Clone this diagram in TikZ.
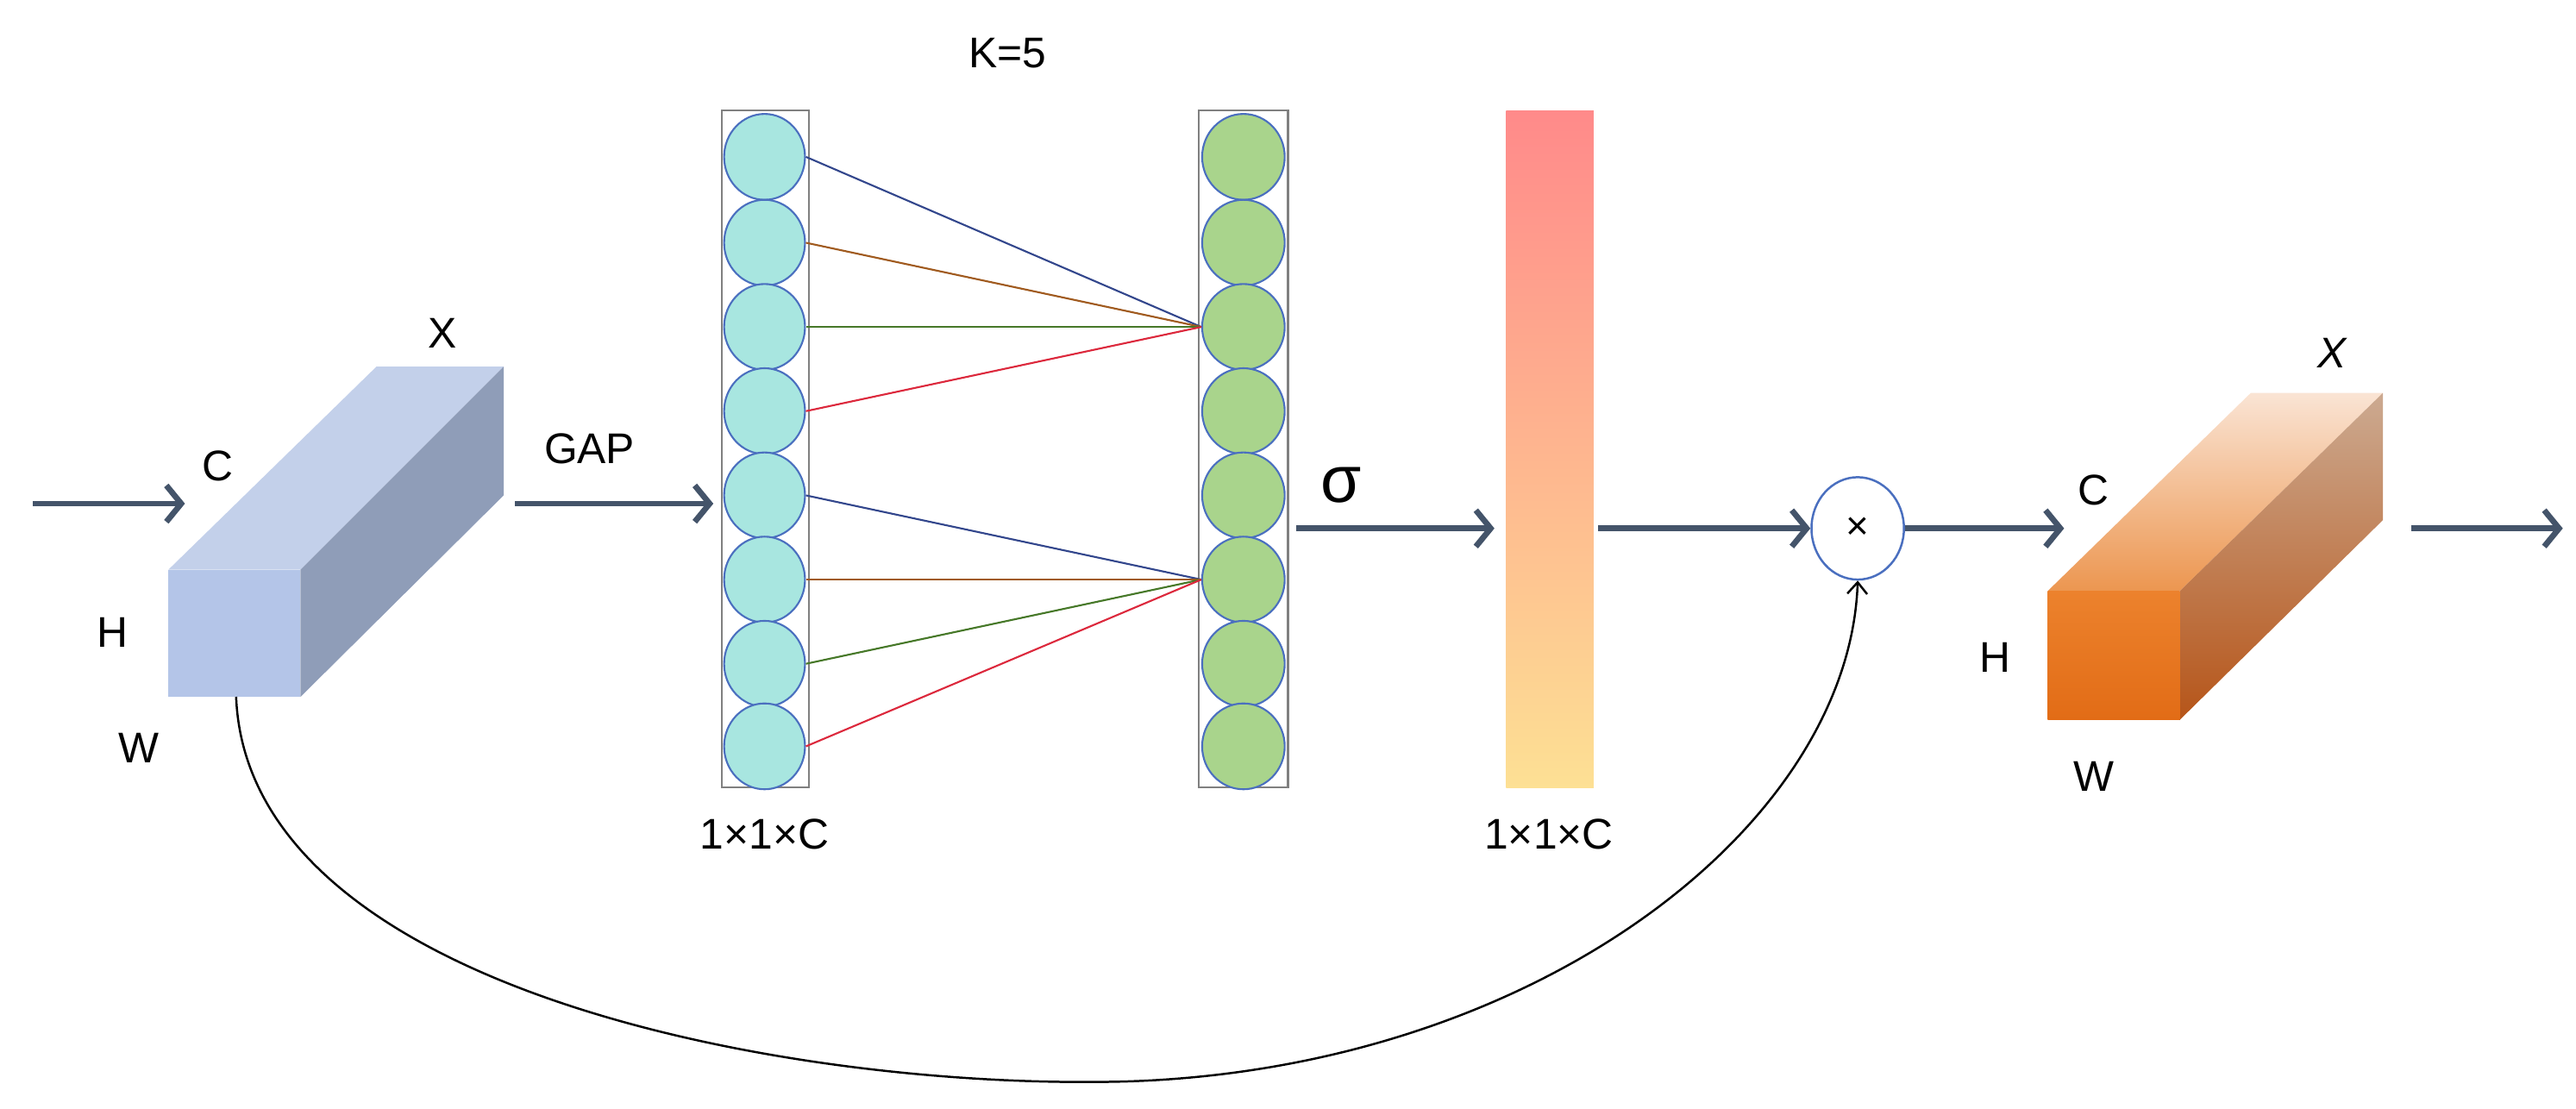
\documentclass[tikz,border=0pt]{standalone}
\usepackage{fontspec}
\setmainfont{Liberation Sans}
\usetikzlibrary{arrows.meta,shapes.geometric}
\definecolor{arr}{HTML}{44546A}
\definecolor{cb}{HTML}{4A6FBF}
\definecolor{cyanf}{HTML}{A8E6E0}
\definecolor{grnf}{HTML}{A9D48C}
\begin{document}
\begin{tikzpicture}[x=1pt,y=-1pt,
  lbl/.style={font=\fontsize{26}{30}\selectfont, inner sep=0pt},
  big/.style={draw=arr,line width=3.5pt,-{Straight Barb[length=9pt,width=22pt,line width=3.5pt]}},
  colbox/.style={draw=gray,line width=1.2pt}]
\useasboundingbox (0,0) rectangle (1560,671.6);
% input arrow
\coordinate (in0) at (20,305);
\coordinate (in1) at (112,305);
\draw[big] (in0) -- (in1);
% left box
\fill[fill={rgb,255:red,195;green,208;blue,234}] (102,345) -- (228,222) -- (305,222) -- (182,345) -- cycle;
\fill[fill={rgb,255:red,143;green,157;blue,184}] (182,345) -- (305,222) -- (305,300) -- (182,422) -- cycle;
\fill[fill={rgb,255:red,180;green,197;blue,232}] (102,345) rectangle (182,422);
\node[lbl] (lC) at (132,282) {C};
\node[lbl] (lX) at (268,202) {X};
\node[lbl] (lH) at (68,383) {H};
\node[lbl] (lW) at (84,453) {W};
\coordinate (boxL) at (143,422);
% GAP
\coordinate (g0) at (312,305);
\coordinate (g1) at (432,305);
\draw[big] (g0) -- (g1);
\node[lbl] (gap) at (357,272) {GAP};
\node[lbl] (k5) at (610,32) {K=5};
% columns
\draw[colbox] (437,67) rectangle (490,477);
\draw[colbox] (726,67) rectangle (780,477);
\foreach \i/\y in {1/95,2/147,3/198,4/249,5/300,6/351,7/402,8/452}{
  \node[ellipse,draw=cb,line width=1.1pt,fill=cyanf,minimum width=49pt,minimum height=52pt,inner sep=0pt] (a\i) at (463,\y) {};
  \node[ellipse,draw=cb,line width=1.1pt,fill=grnf,minimum width=50pt,minimum height=52pt,inner sep=0pt] (b\i) at (753,\y) {};
}
\foreach \i/\c in {1/{rgb,255:red,50;green,70;blue,140},2/{rgb,255:red,160;green,90;blue,30},3/{rgb,255:red,70;green,120;blue,40},4/{rgb,255:red,220;green,40;blue,60}}{
  \draw[color=\c,line width=1.1pt] (a\i.east) -- (b3.west);
}
\foreach \i/\c in {5/{rgb,255:red,50;green,70;blue,140},6/{rgb,255:red,160;green,90;blue,30},7/{rgb,255:red,70;green,120;blue,40},8/{rgb,255:red,220;green,40;blue,60}}{
  \draw[color=\c,line width=1.1pt] (a\i.east) -- (b6.west);
}
\node[lbl] (d1) at (463,505) {1×1×C};
% sigma
\coordinate (s0) at (785,320);
\coordinate (s1) at (905,320);
\draw[big] (s0) -- (s1);
\node[font=\fontsize{40}{42}\selectfont,inner sep=0pt] (sig) at (812,294) {σ};
% gradient bar
\shade[top color={rgb,255:red,255;green,138;blue,138},bottom color={rgb,255:red,253;green,224;blue,148}] (912,67) rectangle (965,477);
\node[lbl] (d2) at (938,505) {1×1×C};
\coordinate (m0) at (968,320);
\node[ellipse,draw=cb,line width=1.3pt,minimum width=56pt,minimum height=62pt,inner sep=0pt,font=\fontsize{24}{26}\selectfont] (mul) at (1125,320) {×};
\draw[big] (m0) -- (mul.west);
\coordinate (o1) at (1250,320);
\draw[big] (mul.east) -- (o1);
% right box
\shade[top color={rgb,255:red,250;green,228;blue,212},bottom color={rgb,255:red,236;green,150;blue,80}] (1240,358) -- (1363,238) -- (1443,238) -- (1320,358) -- cycle;
\shade[top color={rgb,255:red,204;green,170;blue,145},bottom color={rgb,255:red,182;green,85;blue,25}] (1320,358) -- (1443,238) -- (1443,315) -- (1320,436) -- cycle;
\shade[top color={rgb,255:red,236;green,130;blue,45},bottom color={rgb,255:red,226;green,108;blue,22}] (1240,358) rectangle (1320,436);
\node[lbl,font=\fontsize{26}{30}\selectfont\itshape] (rX) at (1412,214) {X};
\node[lbl] (rC) at (1268,297) {C};
\node[lbl] (rH) at (1208,398) {H};
\node[lbl] (rW) at (1268,470) {W};
\coordinate (f0) at (1460,320);
\coordinate (f1) at (1552,320);
\draw[big] (f0) -- (f1);
% skip curve
\draw[line width=1.3pt,-{Straight Barb[length=7pt,width=12pt]}] (boxL) .. controls (150,600) and (480,660) .. (680,655) .. controls (930,648) and (1120,500) .. (mul.south);
\end{tikzpicture}
\end{document}
